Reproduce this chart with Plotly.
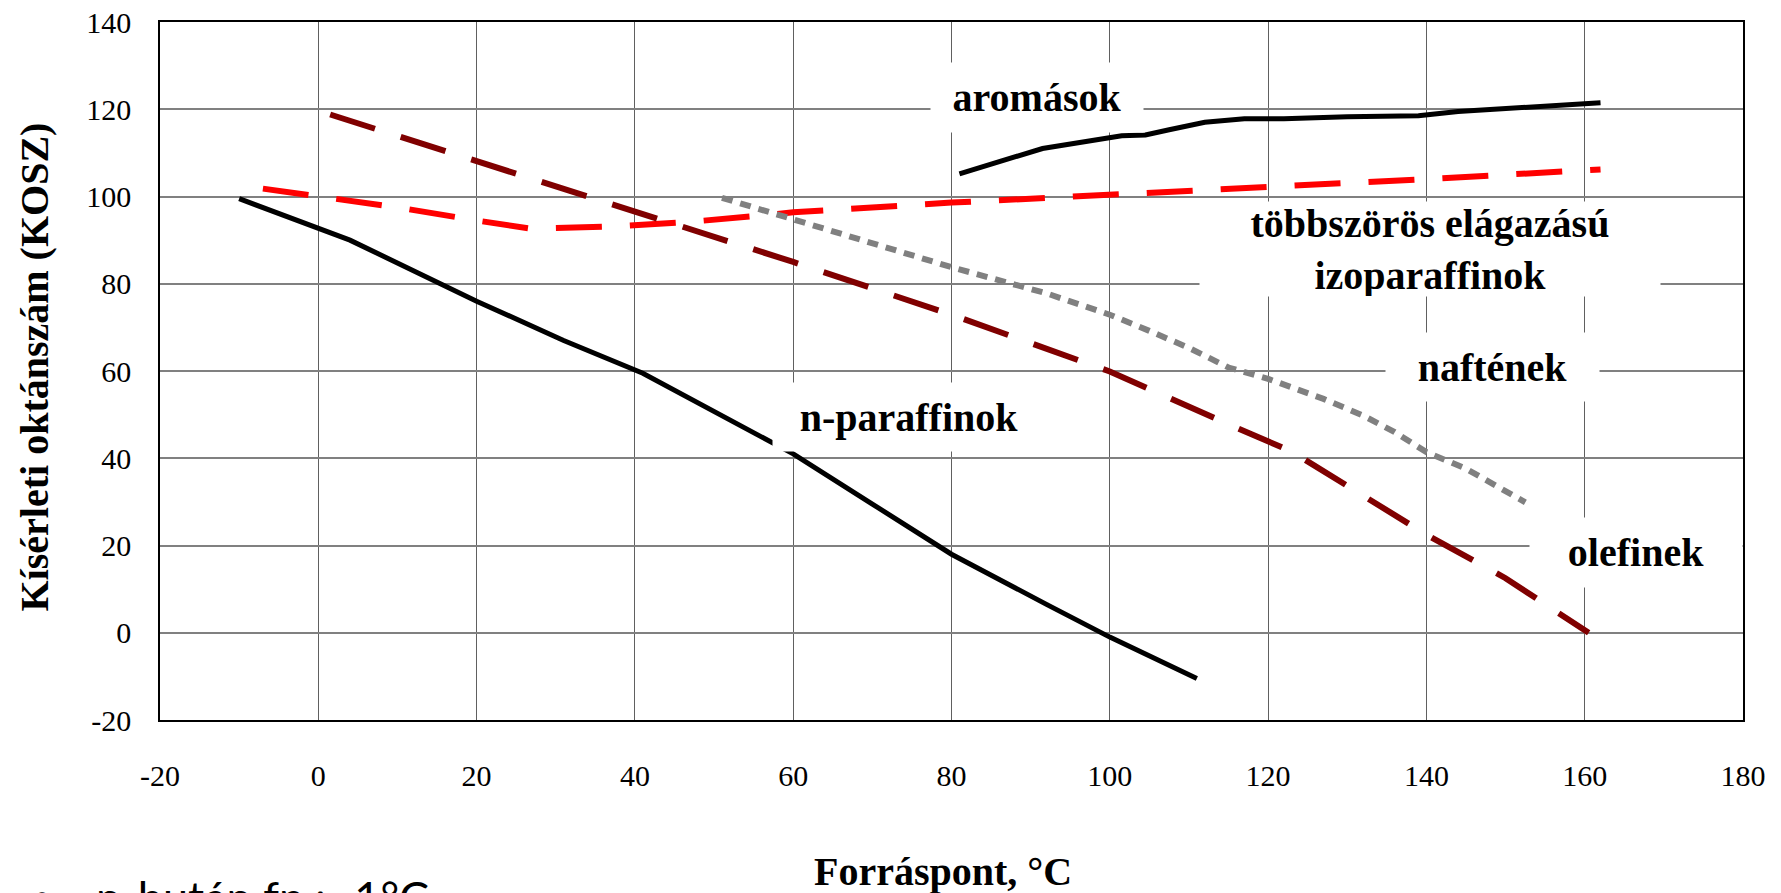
import plotly.graph_objects as go

# ---- data ----
n_par_x = [-10, 4, 20, 31, 41, 60, 70, 80, 92, 100, 111]
n_par_y = [99.5, 90, 76, 67, 59.5, 41, 29.5, 18, 6.5, -1, -10.5]

arom_x = [81, 91.5, 101.5, 104.5, 107.5, 112, 117, 122, 130, 139, 144, 153, 162]
arom_y = [105.2, 111, 113.9, 114.1, 115.3, 117, 117.8, 117.8, 118.3, 118.5, 119.5, 120.4, 121.5]

iso_x = [-7, 0, 10, 20, 27, 37, 47, 57, 60, 80, 100, 120, 140, 162]
iso_y = [101.8, 100, 97.5, 94.5, 92.6, 93.1, 94.2, 95.8, 96.4, 98.6, 100.4, 102, 104, 106.2]

ole_x = [1.5, 25.5, 44, 60, 80, 100, 115, 123, 140, 150, 160.5]
ole_y = [118.8, 105, 94.4, 85, 72.9, 59.9, 47.8, 41.5, 22.5, 12.5, 0]

naph_x = [51, 60, 80, 92, 100, 105, 110, 115, 120, 127, 132, 136, 140, 145, 152.5]
naph_y = [99.7, 94.7, 83.8, 77.8, 72.9, 69.2, 65.3, 60.8, 58.2, 53.6, 49.8, 46, 41.4, 37.6, 29.9]

x_ticks = [-20, 0, 20, 40, 60, 80, 100, 120, 140, 160, 180]
y_ticks = [-20, 0, 20, 40, 60, 80, 100, 120, 140]

x_title = "Forráspont, °C"
y_title = "Kísérleti oktánszám (KOSZ)"
footnote = "n-bután fp.: -1°C"

# labels: (text, x, y, box width, box height)
labels = [
    ("aromások", 90.8, 122.6, 212, 69),
    ("többszörös elágazású<br>izoparaffinok", 140.4, 87.9, 460, 94),
    ("naftének", 148.3, 60.9, 213, 68),
    ("olefinek", 166.5, 18.4, 212, 69),
    ("n-paraffinok", 74.6, 49.4, 272, 68),
]

SERIF = "Liberation Serif, Times New Roman, serif"

fig = go.Figure()
fig.add_trace(go.Scatter(x=iso_x, y=iso_y, mode="lines",
                         line=dict(color="#FF0000", width=6, dash="46px,28px")))
fig.add_trace(go.Scatter(x=ole_x, y=ole_y, mode="lines",
                         line=dict(color="#800000", width=6, dash="47px,27px")))
fig.add_trace(go.Scatter(x=naph_x, y=naph_y, mode="lines",
                         line=dict(color="#808080", width=6, dash="11px,8px")))
fig.add_trace(go.Scatter(x=n_par_x, y=n_par_y, mode="lines",
                         line=dict(color="#000000", width=5)))
fig.add_trace(go.Scatter(x=arom_x, y=arom_y, mode="lines",
                         line=dict(color="#000000", width=5)))

for text, lx, ly, w, h in labels:
    fig.add_annotation(x=lx, y=ly, xref="x", yref="y", text=text, showarrow=False,
                       xanchor="center", yanchor="middle", width=w, height=h,
                       bgcolor="white", borderpad=0, valign="middle",
                       font=dict(family=SERIF, size=40, color="black", weight="bold"))

# axis titles
fig.add_annotation(x=0.4944, y=-0.2176, xref="paper", yref="paper", text=x_title,
                   showarrow=False, xanchor="center", yanchor="middle",
                   font=dict(family=SERIF, size=40, color="black", weight="bold"))
fig.add_annotation(x=-0.0796, y=0.5065, xref="paper", yref="paper", text=y_title,
                   showarrow=False, xanchor="center", yanchor="middle", textangle=-90,
                   font=dict(family=SERIF, size=40, color="black", weight="bold"))

# footnote at the bottom left (cut by the page edge, as in the reference)
fig.add_annotation(x=-0.0745, y=-0.2540, xref="paper", yref="paper", text="•",
                   showarrow=False, xanchor="center", yanchor="middle",
                   font=dict(family="Lato, sans-serif", size=45, color="black"))
fig.add_annotation(x=-0.0415, y=-0.2540, xref="paper", yref="paper", text=footnote,
                   showarrow=False, xanchor="left", yanchor="middle",
                   font=dict(family="Lato, sans-serif", size=45, color="black"))

fig.update_xaxes(range=[-20, 180], tickvals=x_ticks, ticktext=[str(v) for v in x_ticks],
                 showgrid=True, gridcolor="#606060", gridwidth=1.2, zeroline=False,
                 showline=True, linecolor="black", linewidth=2, mirror=True,
                 ticks="outside", ticklen=28, tickcolor="rgba(0,0,0,0)",
                 tickfont=dict(family=SERIF, size=30, color="black"))
fig.update_yaxes(range=[-20, 140], tickvals=y_ticks, ticktext=[str(v) for v in y_ticks],
                 showgrid=True, gridcolor="#808080", gridwidth=1.5, zeroline=False,
                 showline=True, linecolor="black", linewidth=1.5, mirror=True,
                 ticks="outside", ticklen=21, tickcolor="rgba(0,0,0,0)",
                 tickfont=dict(family=SERIF, size=30, color="black"))

fig.update_layout(width=1781, height=893, showlegend=False,
                  margin=dict(l=160, r=38, t=22, b=173, autoexpand=False),
                  plot_bgcolor="white", paper_bgcolor="white")

fig.write_html("out.html")
